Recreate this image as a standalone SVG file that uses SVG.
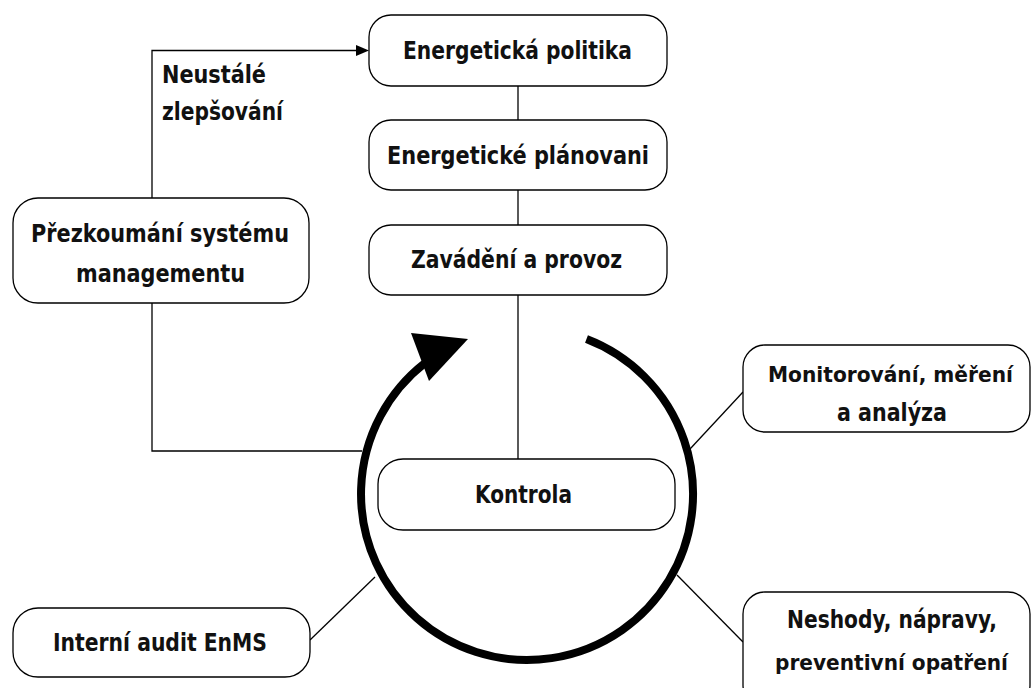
<svg xmlns="http://www.w3.org/2000/svg" width="1031" height="688" viewBox="0 0 1031 688">
<style>
.box{fill:#fff;stroke:#000;stroke-width:1.3}
.t{font-family:"DejaVu Sans Condensed","DejaVu Sans",sans-serif;font-stretch:condensed;font-weight:bold;font-size:24px;fill:#111;text-anchor:middle}
.sm{font-size:22px}
.ts{text-anchor:start}
.ln{stroke:#000;stroke-width:1.3;fill:none}
.cyc{stroke:#000;stroke-width:8;fill:none}
</style>
<rect width="1031" height="688" fill="#fff"/>
<g id="connectors">
<line class="ln" x1="518" y1="86" x2="518" y2="120"/>
<line class="ln" x1="518" y1="190" x2="518" y2="225"/>
<line class="ln" x1="518" y1="295" x2="518" y2="459"/>
<polyline class="ln" points="152,303 152,451 362,451"/>
<polyline class="ln" points="152,198 152,50.5 358,50.5"/>
<polygon points="356,45 369,50.5 356,56" fill="#000"/>
<line class="ln" x1="743" y1="392" x2="690" y2="449"/>
<line class="ln" x1="677" y1="575" x2="743" y2="642"/>
<line class="ln" x1="310" y1="640" x2="375" y2="577"/>
<path class="cyc" d="M586.5,339 A166,166 0 1 1 424.8,363.2"/>
<polygon points="411,333 468,339 429,381" fill="#000"/>
</g>
<g id="n-politika">
<rect class="box" x="369" y="15" width="298" height="71" rx="22"/>
<text class="t" x="517.5" y="59" textLength="229" lengthAdjust="spacingAndGlyphs">Energetická politika</text>
</g>
<g id="n-planovani">
<rect class="box" x="369" y="120" width="298" height="70" rx="22"/>
<text class="t" x="518" y="164" textLength="262" lengthAdjust="spacingAndGlyphs">Energetické plánovani</text>
</g>
<g id="n-zavadeni">
<rect class="box" x="369" y="225" width="298" height="70" rx="22"/>
<text class="t" x="516.5" y="268" textLength="211" lengthAdjust="spacingAndGlyphs">Zavádění a provoz</text>
</g>
<g id="n-kontrola">
<rect class="box" x="378" y="459" width="297" height="71" rx="25"/>
<text class="t" x="523.5" y="503" textLength="97" lengthAdjust="spacingAndGlyphs">Kontrola</text>
</g>
<g id="n-prezkoumani">
<rect class="box" x="13" y="198" width="296" height="105" rx="25"/>
<text class="t" x="160" y="242" textLength="258" lengthAdjust="spacingAndGlyphs">Přezkoumání systému</text>
<text class="t" x="160.5" y="282" textLength="169" lengthAdjust="spacingAndGlyphs">managementu</text>
</g>
<g id="n-monitorovani">
<rect class="box" x="743" y="345" width="287" height="87" rx="22"/>
<text class="t sm" x="890.5" y="382" textLength="245" lengthAdjust="spacingAndGlyphs">Monitorování, měření</text>
<text class="t" x="892" y="421" textLength="110" lengthAdjust="spacingAndGlyphs">a analýza</text>
</g>
<g id="n-neshody">
<rect class="box" x="743" y="592" width="287" height="115" rx="22"/>
<text class="t" x="892" y="628" textLength="210" lengthAdjust="spacingAndGlyphs">Neshody, nápravy,</text>
<text class="t sm" x="891.5" y="670" textLength="233" lengthAdjust="spacingAndGlyphs">preventivní opatření</text>
</g>
<g id="n-audit">
<rect class="box" x="13" y="608" width="297" height="69" rx="25"/>
<text class="t" x="160" y="651" textLength="214" lengthAdjust="spacingAndGlyphs">Interní audit EnMS</text>
</g>
<g id="label-zlepsovani">
<text class="t ts" x="162" y="83" textLength="104" lengthAdjust="spacingAndGlyphs">Neustálé</text>
<text class="t ts" x="162" y="120" textLength="121" lengthAdjust="spacingAndGlyphs">zlepšování</text>
</g>
</svg>
